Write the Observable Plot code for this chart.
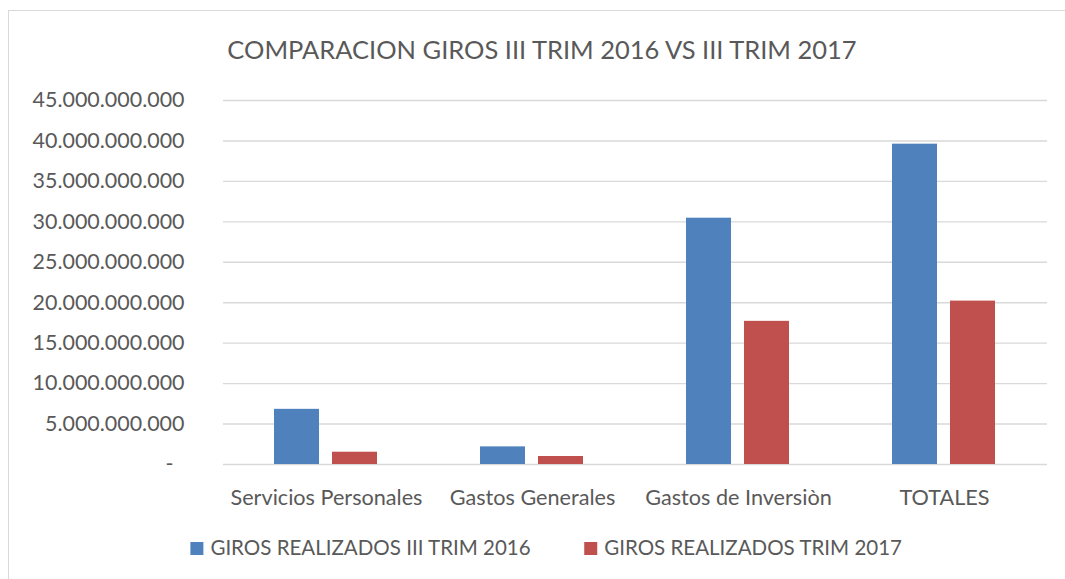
<!DOCTYPE html>
<html>
<head>
<meta charset="utf-8">
<script src="https://cdn.jsdelivr.net/npm/d3@7"></script>
<script src="https://cdn.jsdelivr.net/npm/@observablehq/plot@0.6"></script>
<style>
  html, body { margin: 0; padding: 0; background: #fff; }
  #root { position: relative; width: 1065px; height: 579px; overflow: hidden; font-family: Lato, sans-serif; color: #595959; }
  #frame { position: absolute; left: 8px; top: 10px; width: 1070px; height: 580px; border-left: 1.5px solid #d9d9d9; border-top: 1.5px solid #d9d9d9; box-sizing: border-box; }
  #title, #chart, #legend { position: absolute; left: 0; }
  #title { top: 0; }
  #chart { top: 85px; }
  #legend { top: 525px; }
  svg { display: block; }
</style>
</head>
<body>
<div id="root">
  <div id="frame"></div>
  <div id="title"></div>
  <div id="chart"></div>
  <div id="legend"></div>
</div>
<script>
const titleText = "COMPARACION GIROS III TRIM 2016 VS III TRIM 2017";
const categories = ["Servicios Personales", "Gastos Generales", "Gastos de Inversiòn", "TOTALES"];
const seriesNames = ["GIROS REALIZADOS III TRIM 2016", "GIROS REALIZADOS TRIM 2017"];
const giros2016 = [6.82e9, 2.18e9, 30.45e9, 39.6e9];
const giros2017 = [1.52e9, 0.99e9, 17.7e9, 20.2e9];
const yTicks = [0, 5e9, 10e9, 15e9, 20e9, 25e9, 30e9, 35e9, 40e9, 45e9];
const colors = ["#4f81bd", "#c0504d"];

const textColor = "#595959";
const family = "Lato";

// font-size fitting to match reference text widths
const ctx = document.createElement("canvas").getContext("2d");
function fit(text, target) {
  ctx.font = `100px ${family}`;
  return 100 * target / ctx.measureText(text).width;
}
function measure(text, size) {
  ctx.font = `${size}px ${family}`;
  return ctx.measureText(text).width;
}
const titleFs = fit(titleText, 632);
const tickFs = fit("45.000.000.000", 152);
const xFs = fit("Servicios Personales", 192);
const legendFs = fit(seriesNames[0], 321);

const data = categories.flatMap((c, i) => [
  {category: c, serie: seriesNames[0], value: giros2016[i]},
  {category: c, serie: seriesNames[1], value: giros2017[i]}
]);

const fmt = d => d === 0 ? "-\u00a0\u00a0" : d3.format(",")(d).replace(/,/g, ".");

// Title
const tsvg = d3.create("svg").attr("width", 1065).attr("height", 85);
tsvg.append("text")
  .attr("x", 542).attr("y", 59)
  .attr("text-anchor", "middle")
  .attr("font-family", family).attr("font-size", titleFs)
  .attr("fill", textColor)
  .text(titleText);
document.getElementById("title").appendChild(tsvg.node());

// Chart
const chart = Plot.plot({
  width: 1065,
  height: 440,
  marginLeft: 222,
  marginRight: 17,
  marginTop: 15,
  marginBottom: 61,
  style: {fontFamily: family, fontSize: tickFs + "px", color: textColor, background: "transparent", overflow: "visible"},
  facet: {data: data, x: "category"},
  fx: {domain: categories, padding: 0, label: null, axis: "bottom", tickSize: 0, tickPadding: 25},
  x: {domain: seriesNames, axis: null, paddingInner: 0.22, paddingOuter: 0.86},
  y: {domain: [0, 45e9], ticks: yTicks, tickFormat: fmt, tickSize: 0, tickPadding: 39, label: null},
  color: {domain: seriesNames, range: colors},
  marks: [
    Plot.ruleY(yTicks, {stroke: "#d9d9d9", strokeWidth: 1.4}),
    Plot.barY(data, {x: "serie", y: "value", fill: "serie"})
  ]
});
chart.querySelectorAll("g[aria-label='fx-axis'] text, g[aria-label='fx-axis tick label'] text").forEach(t => t.setAttribute("font-size", xFs));
document.getElementById("chart").appendChild(chart);

// Legend
const lsvg = d3.create("svg").attr("width", 1065).attr("height", 54);
const sq = 13, sqGap = 7, itemGap = 53;
const widths = seriesNames.map(s => measure(s, legendFs));
const total = sq + sqGap + widths[0] + itemGap + sq + sqGap + widths[1];
let x0 = 546.5 - total / 2;
seriesNames.forEach((s, i) => {
  lsvg.append("rect").attr("x", x0).attr("y", 17).attr("width", sq).attr("height", sq).attr("fill", colors[i]);
  lsvg.append("text").attr("x", x0 + sq + sqGap).attr("y", 30)
    .attr("font-family", family).attr("font-size", legendFs).attr("fill", textColor).text(s);
  x0 += sq + sqGap + widths[i] + itemGap;
});
document.getElementById("legend").appendChild(lsvg.node());
</script>
</body>
</html>
